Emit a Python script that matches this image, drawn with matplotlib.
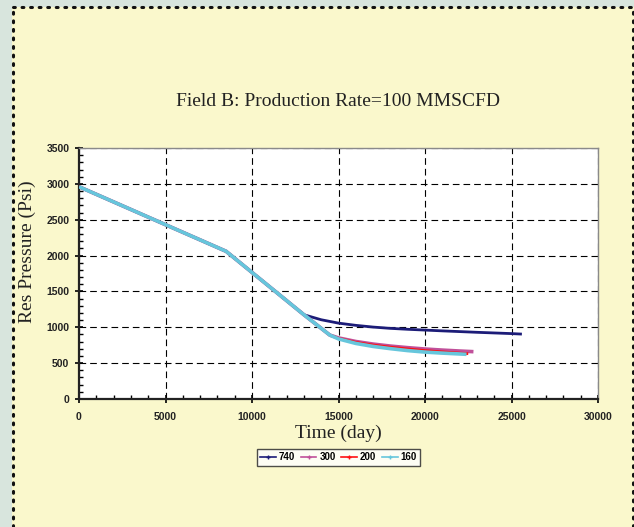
import matplotlib
matplotlib.use("Agg")
import matplotlib.pyplot as plt
from matplotlib.patches import Rectangle
from matplotlib.lines import Line2D
from matplotlib.ticker import MultipleLocator

# ---- data ----
series_names = ["740", "300", "200", "160"]
t_740 = [0, 8500, 13000, 14000, 15000, 16000, 17000, 18000, 19000, 20000, 21000, 22000, 23000, 24000, 25000, 25600]
p_740 = [2960, 2060, 1175, 1105, 1058, 1027, 1003, 985, 972, 961, 950, 940, 930, 921, 912, 905]
t_300 = [0, 8500, 13000, 14500, 15000, 16000, 17000, 18000, 19000, 20000, 21000, 22000, 22800]
p_300 = [2960, 2060, 1175, 891, 852, 802, 766, 738, 716, 697, 682, 669, 660]
t_200 = [0, 8500, 13000, 14500, 15000, 16000, 17000, 18000, 19000, 20000, 21000, 22000, 22500]
p_200 = [2960, 2060, 1175, 891, 845, 790, 752, 722, 698, 675, 657, 640, 632]
t_160 = [0, 8500, 13000, 14500, 15000, 16000, 17000, 18000, 19000, 20000, 21000, 22000, 22400]
p_160 = [2960, 2060, 1175, 891, 838, 775, 733, 702, 675, 654, 640, 628, 623]
colors = ["#1c1c78", "#c0509a", "#ff1010", "#66c6dc"]
widths = [2.0, 2.6, 2.0, 2.6]

x_ticks = [0, 5000, 10000, 15000, 20000, 25000, 30000]
y_ticks = [0, 500, 1000, 1500, 2000, 2500, 3000, 3500]

title = "Field B: Production Rate=100 MMSCFD"
xlabel = "Time (day)"
ylabel = "Res Pressure (Psi)"

W, H = 634, 527
fig = plt.figure(figsize=(W / 100, H / 100), dpi=100)
fig.patch.set_facecolor("#d8e5dd")

# yellow panel
fig.patches.append(Rectangle((12 / W, 0), 1 - 12 / W, (H - 7) / H, transform=fig.transFigure,
                             facecolor="#faf8cc", edgecolor="none", zorder=-5))
# dotted border
dot = dict(color="#111111", lw=2.2, linestyle=(0, (0.6, 2.2)), dash_capstyle="round",
           transform=fig.transFigure, zorder=-4)
fig.add_artist(Line2D([12.5 / W, 12.5 / W], [0, (H - 7) / H], **dot))
fig.add_artist(Line2D([12.5 / W, 632.5 / W], [(H - 7) / H, (H - 7) / H], **dot))
fig.add_artist(Line2D([632.5 / W, 632.5 / W], [0, (H - 7) / H], **dot))

ax = fig.add_axes([79 / W, (H - 399) / H, (598 - 79) / W, (399 - 148) / H])
ax.set_zorder(1)
ax.set_facecolor("white")

data = [(t_740, p_740), (t_300, p_300), (t_200, p_200), (t_160, p_160)]
for (t, p), c, lw, name in zip(data, colors, widths, series_names):
    ax.plot(t, p, color=c, lw=lw, label=name, solid_capstyle="butt", zorder=3)

ax.set_xlim(0, 30000)
ax.set_ylim(0, 3500)
ax.set_xticks(x_ticks)
ax.set_yticks(y_ticks)
ax.xaxis.set_minor_locator(MultipleLocator(1000))
ax.yaxis.set_minor_locator(MultipleLocator(100))
ax.grid(True, which="major", color="black", lw=0.8, linestyle=(0, (6, 3.6)))
ax.tick_params(which="major", direction="inout", length=6, width=1.2, colors="black", pad=4)
ax.tick_params(axis="x", which="major", pad=6)
ax.tick_params(which="minor", direction="in", length=3, width=1.0, colors="black")
for lab in ax.get_xticklabels() + ax.get_yticklabels():
    lab.set_fontfamily("Liberation Sans")
    lab.set_fontweight("bold")
    lab.set_fontsize(7.5)
    lab.set_color("#222222")

for s in ["left", "bottom"]:
    ax.spines[s].set_color("#222222")
    ax.spines[s].set_linewidth(1.6)
for s in ["top", "right"]:
    ax.spines[s].set_color("#8a8a8a")
    ax.spines[s].set_linewidth(1.0)

fig.text(338 / W, (H - 102) / H, title, family="Liberation Serif", fontsize=14,
         ha="center", va="center", color="#222222")
fig.text(338 / W, (H - 433) / H, xlabel, family="Liberation Serif", fontsize=14,
         ha="center", va="center", color="#222222")
fig.text(27 / W, (H - 252) / H, ylabel, family="Liberation Serif", fontsize=14,
         ha="center", va="center", rotation=90, color="#222222")

handles = [Line2D([], [], color=c, lw=1.2, marker="+", markersize=3, markeredgewidth=1.0)
           for c in colors]
leg = fig.legend(handles, series_names, loc="center", bbox_to_anchor=(338.5 / W, (H - 457.5) / H),
                 ncol=4, frameon=True, fancybox=False, shadow=False,
                 prop={"family": "Liberation Sans", "weight": "bold", "size": 7},
                 handlelength=1.6, handletextpad=0.3, columnspacing=0.6,
                 borderpad=0.35, borderaxespad=0)
leg.get_frame().set_edgecolor("#222222")
leg.get_frame().set_linewidth(1.0)
leg.get_frame().set_facecolor("white")

fig.savefig("out.png", dpi=100, facecolor=fig.get_facecolor())
